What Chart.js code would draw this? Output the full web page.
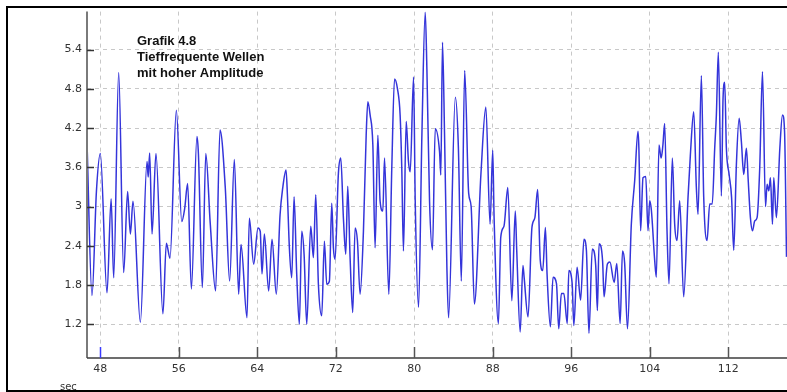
<!DOCTYPE html>
<html>
<head>
<meta charset="utf-8">
<script src="https://cdn.jsdelivr.net/npm/chart.js@4.4.1/dist/chart.umd.min.js"></script>
<style>
html,body{margin:0;padding:0;background:#fff;}
#wrap{position:relative;width:787px;height:392px;}
</style>
</head>
<body>
<div id="wrap"><canvas id="c" width="787" height="392"></canvas></div>
<script>
// ---- data ----
const times = [46.64,47.15,47.6,48.0,48.68,49.1,49.36,49.87,50.38,50.78,51.06,51.33,52.08,52.76,52.88,53.03,53.27,53.67,54.38,54.73,55.1,55.75,56.3,56.6,56.9,57.28,57.85,58.0,58.4,58.75,59.2,59.75,60.2,60.74,61.18,61.66,62.1,62.34,62.95,63.19,63.63,64.07,64.3,64.48,64.72,65.16,65.5,65.94,
66.32,66.59,66.93,67.07,67.27,67.51,67.75,68.02,68.29,68.53,68.77,69.04,69.45,69.72,69.96,70.23,70.57,70.84,71.08,71.35,71.59,71.76,71.93,72.27,72.51,72.78,73.02,73.22,73.46,73.73,73.97,74.21,74.48,74.82,75.1,75.27,75.5,75.78,76.01,76.29,76.52,76.8,76.97,77.41,77.71,77.99,78.29,78.56,78.73,78.9,79.18,79.41,79.59,79.93,80.1,80.44,80.78,81.12,81.29,81.56,81.86,82.14,82.58,82.71,82.88,83.09,83.33,83.5,
84.19,84.5,84.8,85.14,85.55,85.8,86.13,86.8,87.3,87.73,88.0,88.14,88.58,88.82,89.15,89.54,89.95,90.3,90.45,90.8,91.08,91.2,91.6,92.0,92.3,92.58,92.85,93.1,93.37,93.54,93.88,94.15,94.5,94.73,95.0,95.25,95.6,95.76,96.1,96.27,96.6,96.96,97.3,97.55,97.81,98.15,98.5,98.67,98.84,99.2,99.35,99.69,99.95,100.38,100.65,100.99,101.23,101.45,101.74,
102.13,102.47,102.81,102.9,103.08,103.32,103.6,103.83,104.0,104.17,104.51,104.68,104.95,105.17,105.35,105.53,105.77,105.97,106.31,106.55,106.79,107.06,107.47,107.91,108.15,108.49,108.76,108.93,109.27,109.51,109.85,110.12,110.38,110.63,110.8,111.0,111.31,111.48,111.65,111.82,112.1,112.35,112.57,112.84,113.12,113.35,113.59,113.86,114.05,114.27,114.48,114.71,114.95,115.22,115.5,115.81,115.97,116.15,116.31,116.52,116.65,116.92,117.27,117.54,117.75,117.95];
const values = [3.99,1.64,3.23,3.81,1.68,3.12,1.91,5.05,1.99,3.23,2.58,3.08,1.23,3.69,3.45,3.82,2.58,3.81,1.36,2.44,2.21,4.47,2.77,2.97,3.35,1.74,4.07,3.8,1.76,3.81,2.75,1.71,4.17,3.28,1.86,3.72,1.66,2.42,1.3,2.82,2.12,2.67,2.62,1.97,2.58,1.71,2.5,1.66,
2.87,3.28,3.56,3.18,2.37,1.91,3.15,1.96,1.2,2.62,2.27,1.2,2.7,2.22,3.18,1.81,1.33,2.47,1.81,1.86,3.05,2.37,2.19,3.51,3.74,2.82,2.27,3.31,2.22,1.38,2.67,2.47,1.66,2.62,4.09,4.6,4.4,3.94,2.37,4.09,3.08,2.93,3.74,1.66,3.58,4.95,4.8,4.4,3.58,2.32,4.3,3.69,3.53,4.98,3.08,1.46,4.09,5.97,5.1,3.08,2.34,4.19,3.84,3.48,5.51,4.09,2.06,1.3,
4.67,3.9,1.86,5.08,3.2,3.0,1.51,3.5,4.52,2.73,3.86,2.83,1.21,2.53,2.7,3.29,1.56,2.93,2.32,1.08,2.1,1.92,1.31,2.68,2.83,3.26,2.17,2.02,2.68,1.97,1.16,1.92,1.82,1.13,1.67,1.67,1.21,2.02,1.82,1.18,2.07,1.57,2.5,2.33,1.06,2.35,2.1,1.41,2.43,2.17,1.62,2.12,2.15,1.84,2.13,1.21,2.32,2.13,1.13,
2.73,3.39,4.15,3.9,2.63,3.44,3.46,2.63,3.09,2.95,2.18,1.92,3.94,3.74,3.94,4.27,2.63,1.82,3.74,2.73,2.48,3.09,1.62,3.14,3.79,4.45,3.29,2.88,5.0,3.14,2.48,3.04,3.04,3.89,4.4,5.36,3.16,4.65,4.9,3.89,3.49,3.14,2.33,3.64,4.35,3.99,3.49,3.89,3.39,2.83,2.63,2.78,2.83,3.59,5.06,3.0,3.34,3.24,3.44,2.73,3.44,2.83,3.89,4.4,4.15,2.23];
const xTickValues = [48,56,64,72,80,88,96,104,112];
const yTickValues = [1.2,1.8,2.4,3,3.6,4.2,4.8,5.4];
const titleLines = ['Grafik 4.8','Tieffrequente Wellen','mit hoher Amplitude'];
const xUnit = 'sec';

const points = times.map((t,i)=>({x:t,y:values[i]}));

const decor = {
  id:'decor',
  beforeDraw(chart){
    const ctx = chart.ctx;
    ctx.save();
    ctx.fillStyle='#fff';
    ctx.fillRect(0,0,chart.width,chart.height);
    ctx.restore();
  },
  afterDraw(chart){
    const ctx = chart.ctx;
    const a = chart.chartArea;
    const xs = chart.scales.x, ys = chart.scales.y;
    ctx.save();
    // outer frame
    ctx.strokeStyle='#000'; ctx.lineWidth=2;
    ctx.strokeRect(7,7,chart.width+20,384);
    // axis lines
    ctx.strokeStyle='#7a7a7a'; ctx.lineWidth=2;
    ctx.beginPath(); ctx.moveTo(a.left,a.top); ctx.lineTo(a.left,a.bottom); ctx.stroke();
    ctx.strokeStyle='#3c3c3c'; ctx.lineWidth=1.5;
    ctx.beginPath(); ctx.moveTo(a.left,a.bottom); ctx.lineTo(a.right,a.bottom); ctx.stroke();
    // tick marks (inside)
    ctx.lineWidth=1.5;
    xTickValues.forEach((v,i)=>{
      const px = Math.round(xs.getPixelForValue(v))+0.5;
      ctx.strokeStyle = i===0 ? '#3a3aff' : '#555';
      ctx.beginPath(); ctx.moveTo(px,a.bottom); ctx.lineTo(px,a.bottom-11); ctx.stroke();
    });
    ctx.strokeStyle='#333';
    yTickValues.forEach(v=>{
      const py = Math.round(ys.getPixelForValue(v))+0.5;
      ctx.beginPath(); ctx.moveTo(a.left,py); ctx.lineTo(a.left+7,py); ctx.stroke();
    });
    // title block
    ctx.fillStyle='#111';
    ctx.font='bold 13px "Liberation Sans", Arial, sans-serif';
    ctx.textBaseline='alphabetic';
    ctx.textAlign='left';
    titleLines.forEach((s,i)=>ctx.fillText(s,137,45+i*16));
    // unit
    ctx.fillStyle='#333';
    ctx.font='10px "DejaVu Sans", sans-serif';
    ctx.fillText(xUnit,60,390);
    ctx.restore();
  }
};

new Chart(document.getElementById('c'),{
  type:'line',
  data:{datasets:[{data:points,borderColor:'#3434da',borderWidth:1.5,pointRadius:0,cubicInterpolationMode:'monotone',fill:false}]},
  options:{
    responsive:false,animation:false,
    layout:{padding:{top:9,right:0,left:0,bottom:0}},
    plugins:{legend:{display:false},tooltip:{enabled:false}},
    scales:{
      x:{type:'linear',min:46.64,max:118.0,
        afterBuildTicks:s=>{s.ticks=xTickValues.map(v=>({value:v}));},
        afterFit:s=>{s.height=34;},
        grid:{color:'#c8c8c8',lineWidth:1,drawTicks:false},
        border:{display:false,dash:[4,4]},
        ticks:{padding:5,color:'#333',font:{family:'"DejaVu Sans", sans-serif',size:11},maxRotation:0,autoSkip:false,callback:v=>String(v)}
      },
      y:{type:'linear',min:0.684,max:5.98,
        afterBuildTicks:s=>{s.ticks=yTickValues.map(v=>({value:v}));},
        afterFit:s=>{s.width=87;},
        grid:{color:'#c8c8c8',lineWidth:1,drawTicks:false},
        border:{display:false,dash:[4,4]},
        ticks:{padding:5,color:'#333',font:{family:'"DejaVu Sans", sans-serif',size:11},autoSkip:false,callback:v=>String(v)}
      }
    }
  },
  plugins:[decor]
});
</script>
</body>
</html>
